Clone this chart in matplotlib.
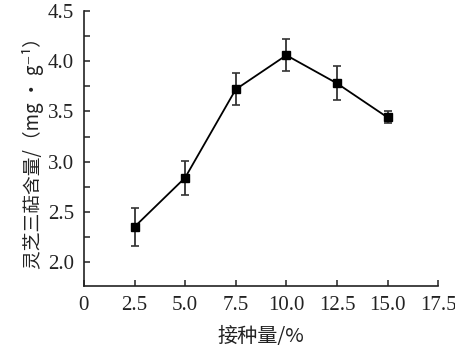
import matplotlib
matplotlib.use("Agg")
import matplotlib.pyplot as plt
from matplotlib.ticker import MultipleLocator

inoculum = [2.5, 5.0, 7.5, 10.0, 12.5, 15.0]
content = [2.35, 2.84, 3.72, 4.06, 3.78, 3.44]
errors = [0.19, 0.17, 0.16, 0.16, 0.17, 0.06]
xticks = [0, 2.5, 5.0, 7.5, 10.0, 12.5, 15.0, 17.5]
xticklabels = ["0", "2.5", "5.0", "7.5", "10.0", "12.5", "15.0", "17.5"]
yticks = [2.0, 2.5, 3.0, 3.5, 4.0, 4.5]
yticklabels = ["2.0", "2.5", "3.0", "3.5", "4.0", "4.5"]

fig = plt.figure(figsize=(4.56, 3.58), dpi=100)
ax = fig.add_axes([0.184, 0.201, 0.777, 0.768])

ax.errorbar(inoculum, content, yerr=errors, color="black", ecolor="#333333",
            elinewidth=1.3, capsize=3, capthick=1.2, linewidth=1.3,
            marker="s", markersize=6)

ax.set_xlim(0, 17.5)
ax.set_ylim(1.76, 4.5)
ax.set_xticks(xticks)
ax.set_xticklabels(xticklabels)
ax.set_yticks(yticks)
ax.set_yticklabels(yticklabels)
ax.yaxis.set_minor_locator(MultipleLocator(0.25))

for s in ["top", "right"]:
    ax.spines[s].set_visible(False)
for s in ["left", "bottom"]:
    ax.spines[s].set_linewidth(1.2)
    ax.spines[s].set_color("#222222")

ax.tick_params(axis="both", which="both", direction="in", width=1.1, color="#222222")
ax.tick_params(axis="x", which="major", length=4, pad=7)
ax.tick_params(axis="y", which="major", length=4, pad=7)
ax.tick_params(axis="y", which="minor", length=4)
for lab in ax.get_xticklabels() + ax.get_yticklabels():
    lab.set_fontfamily("Liberation Serif")
    lab.set_fontsize(15)
    lab.set_color("#222222")

ax.set_xlabel("接种量/%", family=["Noto Sans CJK SC", "DejaVu Sans"], fontsize=14.5,
              color="#222222", labelpad=8)
ax.set_ylabel("灵芝三萜含量/（mg • g⁻¹）", family=["Noto Sans CJK SC", "DejaVu Sans"],
              fontsize=13.5, color="#222222", labelpad=3)

fig.savefig("out.png", dpi=100)
